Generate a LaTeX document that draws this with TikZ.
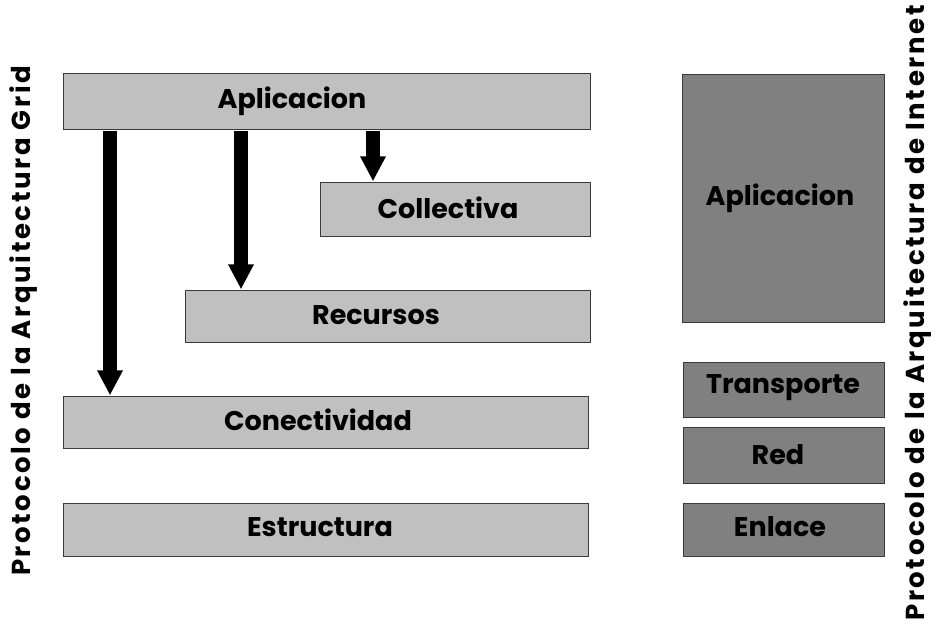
\documentclass[tikz,border=0pt]{standalone}
\usepackage{fontspec}
\setmainfont{Poppins}[BoldFont={* Bold}]
\newfontfamily\sidefont{Poppins}[BoldFont={* Bold}, LetterSpace=10]
\usetikzlibrary{arrows.meta}
\definecolor{layerlight}{HTML}{C0C0C0}
\definecolor{layerdark}{HTML}{808080}
\definecolor{edgegray}{HTML}{3A3A3A}
\tikzset{
  layer/.style={draw=edgegray, line width=1.3pt, fill=layerlight, inner sep=0pt},
  inetlayer/.style={layer, fill=layerdark},
  lbl/.style={font=\bfseries\fontsize{27}{30}\selectfont, inner sep=0pt},
  sidelbl/.style={font=\sidefont\bfseries\fontsize{26}{28}\selectfont, inner sep=0pt, rotate=90},
  bigarrow/.style={line width=13.5pt, -{Triangle[width=24pt,length=25pt]}, black},
}
\begin{document}
\begin{tikzpicture}[x=1pt, y=-1pt]
\useasboundingbox (0,0) rectangle (935,628);

% Grid architecture layers
\node[layer, anchor=north west, minimum width=527pt, minimum height=56pt] (app) at (63,73) {};
\node[layer, anchor=north west, minimum width=270pt, minimum height=54pt] (col) at (320,182) {};
\node[layer, anchor=north west, minimum width=405pt, minimum height=52pt] (rec) at (185,290) {};
\node[layer, anchor=north west, minimum width=525pt, minimum height=52pt] (con) at (63,396) {};
\node[layer, anchor=north west, minimum width=525pt, minimum height=53pt] (est) at (63,503) {};

\node[lbl] (tapp) at (292,101) {Aplicacion};
\node[lbl] (tcol) at (448,208) {Collectiva};
\node[lbl] (trec) at (376,315) {Recursos};
\node[lbl] (tcon) at (318,420) {Conectividad};
\node[lbl] (test) at (320,527) {Estructura};

% Internet architecture layers
\node[inetlayer, anchor=north west, minimum width=202pt, minimum height=248pt] (iapp) at (682,74) {};
\node[inetlayer, anchor=north west, minimum width=201pt, minimum height=55pt] (tra) at (683,362) {};
\node[inetlayer, anchor=north west, minimum width=201pt, minimum height=56pt] (red) at (683,427) {};
\node[inetlayer, anchor=north west, minimum width=201pt, minimum height=53pt] (enl) at (683,503) {};

\node[lbl] (tiapp) at (780,198) {Aplicacion};
\node[lbl] (ttra) at (783,388) {Transporte};
\node[lbl] (tred) at (778,455) {Red};
\node[lbl] (tenl) at (780,527) {Enlace};

% Arrows from the application layer down to the lower layers
\coordinate (ax1) at (110,0);
\coordinate (ax2) at (241,0);
\coordinate (ax3) at (373,0);
\draw[bigarrow] ([yshift=-0.65pt]app.south -| ax1) -- ([yshift=0.65pt]con.north -| ax1);
\draw[bigarrow] ([yshift=-0.65pt]app.south -| ax2) -- ([yshift=0.65pt]rec.north -| ax2);
\draw[bigarrow] ([yshift=-0.65pt]app.south -| ax3) -- ([yshift=0.65pt]col.north -| ax3);

% Side captions
\node[sidelbl] (grid) at (24,321) {Protocolo de la Arquitectura Grid};
\node[sidelbl] (inet) at (918,313) {Protocolo de la Arquitectura de Internet};
\end{tikzpicture}
\end{document}
